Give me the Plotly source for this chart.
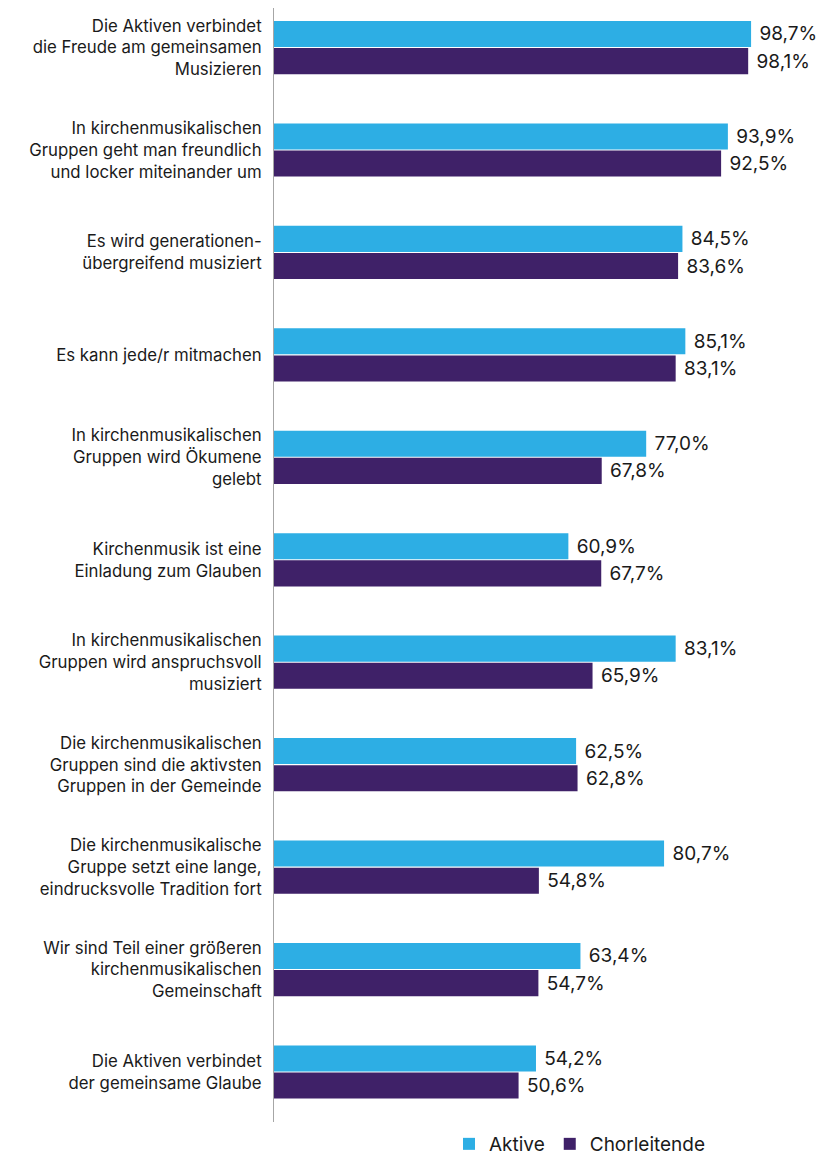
import plotly.graph_objects as go

# Survey statements (top to bottom) and the shares per group
statements = [
    "Die Aktiven verbindet<br>die Freude am gemeinsamen<br>Musizieren",
    "In kirchenmusikalischen<br>Gruppen geht man freundlich<br>und locker miteinander um",
    "Es wird generationen-<br>übergreifend musiziert",
    "Es kann jede/r mitmachen",
    "In kirchenmusikalischen<br>Gruppen wird Ökumene<br>gelebt",
    "Kirchenmusik ist eine<br>Einladung zum Glauben",
    "In kirchenmusikalischen<br>Gruppen wird anspruchsvoll<br>musiziert",
    "Die kirchenmusikalischen<br>Gruppen sind die aktivsten<br>Gruppen in der Gemeinde",
    "Die kirchenmusikalische<br>Gruppe setzt eine lange,<br>eindrucksvolle Tradition fort",
    "Wir sind Teil einer größeren<br>kirchenmusikalischen<br>Gemeinschaft",
    "Die Aktiven verbindet<br>der gemeinsame Glaube",
]
aktive = [98.7, 93.9, 84.5, 85.1, 77.0, 60.9, 83.1, 62.5, 80.7, 63.4, 54.2]
chorleitende = [98.1, 92.5, 83.6, 83.1, 67.8, 67.7, 65.9, 62.8, 54.8, 54.7, 50.6]

FONT = "Inter"
TEXT_COLOR = "#1a1a1a"


def pct(v):
    # German decimal comma, small nbsp gap after the bar end
    return "\u00a0" + f"{v:.1f}%".replace(".", ",")


fig = go.Figure()
for name, vals, color in [("Aktive", aktive, "#2daee4"), ("Chorleitende", chorleitende, "#3f2168")]:
    fig.add_trace(go.Bar(
        y=statements,
        x=vals,
        name=name,
        orientation="h",
        marker=dict(color=color, line=dict(width=0)),
        text=[pct(v) for v in vals],
        textposition="outside",
        textfont=dict(size=19, color=TEXT_COLOR, family=FONT),
        cliponaxis=False,
    ))

# page body adds an 8px offset, so the figure is 8px smaller than the window
W, H = 818, 1155
fig.update_layout(
    width=W,
    height=H,
    margin=dict(l=266, r=0, t=0, b=41, autoexpand=False),
    barmode="group",
    bargap=0.47,
    bargroupgap=0.04,
    plot_bgcolor="white",
    paper_bgcolor="white",
    font=dict(family=FONT, size=17, color=TEXT_COLOR),
    showlegend=True,
    legend=dict(
        orientation="h",
        xref="container", yref="container",
        x=572 / W, xanchor="center",
        y=0, yanchor="bottom",
        font=dict(size=19, family=FONT, color=TEXT_COLOR),
        itemwidth=30,
        traceorder="normal",
    ),
)
fig.update_xaxes(
    range=[0, 114.2],
    showgrid=False, zeroline=False, showticklabels=False, showline=False,
    automargin=False,
)
fig.update_yaxes(
    categoryorder="array",
    categoryarray=statements,
    range=[10.488, -0.386],
    showgrid=False, zeroline=False,
    showline=True, linecolor="#a6a6a6", linewidth=1,
    ticks="", ticklabelstandoff=8,
    tickfont=dict(size=16.8, family=FONT, color=TEXT_COLOR),
    automargin=False,
)

fig.write_html("out.html")
